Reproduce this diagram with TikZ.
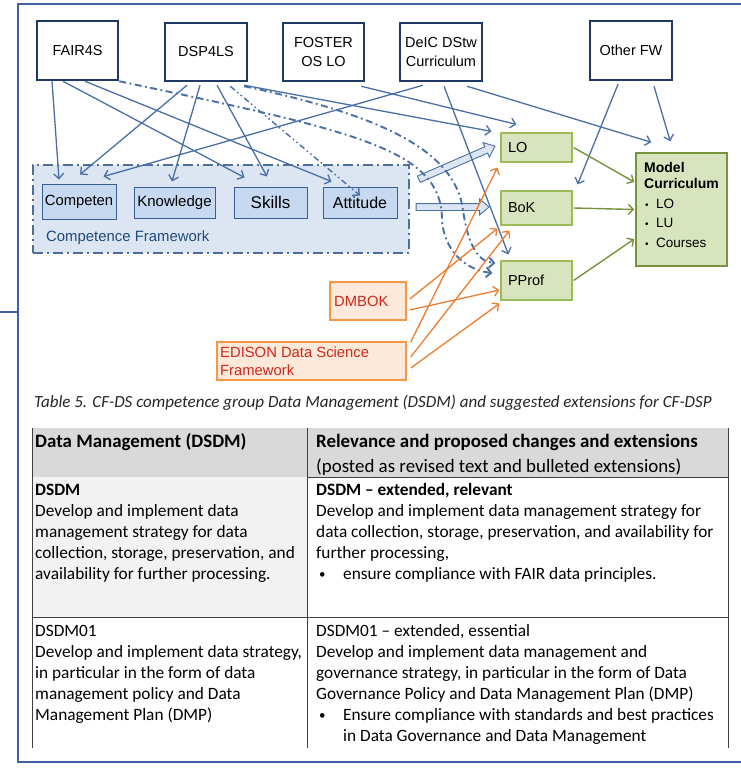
\documentclass[tikz,border=0pt]{standalone}
\usepackage{fontspec}
\setmainfont{Liberation Sans}
\newfontfamily\calibri{Carlito}
\usetikzlibrary{arrows.meta,shapes.arrows}
\definecolor{navy}{HTML}{1F3864}
\definecolor{lineblue}{HTML}{4A6FA5}
\definecolor{cffill}{HTML}{DCE6F2}
\definecolor{cfborder}{HTML}{4F6F9A}
\definecolor{cfin}{HTML}{3B5E91}
\definecolor{cfinfill}{HTML}{C6D9F1}
\definecolor{cflabel}{HTML}{1F497D}
\definecolor{gfill}{HTML}{D7E4BD}
\definecolor{gborder}{HTML}{9BBB59}
\definecolor{mcborder}{HTML}{77933C}
\definecolor{garr}{HTML}{77933C}
\definecolor{ofill}{HTML}{FDE9D9}
\definecolor{oborder}{HTML}{F79646}
\definecolor{ored}{HTML}{D0281C}
\definecolor{oarr}{HTML}{ED7D31}
\definecolor{frameblue}{HTML}{3F60A6}
\definecolor{tgray}{HTML}{D9D9D9}
\definecolor{tlight}{HTML}{F2F2F2}
\definecolor{tline}{HTML}{404040}
\definecolor{captxt}{HTML}{262626}
\begin{document}
\begin{tikzpicture}[x=1pt,y=-1pt,
  topbox/.style={draw=navy, line width=2.5pt, fill=white, align=center, font=\fontsize{14.5}{19}\selectfont, inner sep=0pt},
  cfbox/.style={draw=cfin, fill=cfinfill, line width=1pt, inner sep=0pt},
  gbox/.style={draw=gborder, fill=gfill, line width=1.2pt, inner xsep=7pt, inner ysep=0pt, font=\fontsize{14.5}{18}\selectfont, text width=57pt, align=left},
  obox/.style={draw=oborder, fill=ofill, line width=1.5pt, text=ored, font=\fontsize{14.8}{18}\selectfont, inner sep=0pt},
  otxt/.style={anchor=base west, inner sep=0pt, text=ored, font=\fontsize{14.8}{18}\selectfont},
  barrow/.style={draw=lineblue, line width=1.3pt, -{Straight Barb[length=5pt,width=10pt]}},
  oarrow/.style={draw=oarr, line width=1.3pt, -{Straight Barb[length=5pt,width=10pt]}},
  garrow/.style={draw=garr, line width=1.4pt, -{Straight Barb[length=5pt,width=10pt]}},
  ddash/.style={draw=lineblue, line width=1.9pt, dash pattern=on 7pt off 3.5pt on 1.8pt off 3.5pt, -{Straight Barb[length=5pt,width=10pt]}},
  dddash/.style={draw=lineblue, line width=1.4pt, dash pattern=on 6pt off 3pt on 1.6pt off 3pt on 1.6pt off 3pt, -{Straight Barb[length=5pt,width=10pt]}},
  blockarr/.style={single arrow, draw=lineblue, fill=cffill, line width=0.9pt, inner sep=3pt, minimum width=15pt, single arrow head extend=4.5pt, single arrow tip angle=80},
  tl/.style={anchor=base west, inner sep=0pt, text=black, font=\calibri\fontsize{17.3}{20}\selectfont},
  tlb/.style={tl, font=\calibri\bfseries\fontsize{17.3}{20}\selectfont},
  tbul/.style={tl, font=\calibri\fontsize{13}{20}\selectfont},
  th/.style={anchor=base west, inner sep=0pt, text=black, font=\calibri\fontsize{18.9}{22}\selectfont},
  thb/.style={th, font=\calibri\bfseries\fontsize{18.9}{22}\selectfont},
  mct/.style={anchor=base west, inner sep=0pt, font=\fontsize{13.5}{16}\selectfont},
]
\useasboundingbox (0,0) rectangle (741,768);
\clip (0,0) rectangle (741,768);
\fill[white] (0,0) rectangle (741,768);

% outer frame
\draw[frameblue, line width=2.5pt] (18,4) rectangle (770,762);
\coordinate (stubL) at (0,312);
\coordinate (stubR) at (18,312);
\draw[frameblue, line width=2.5pt] (stubL) -- (stubR);

% top boxes
\node[topbox, minimum width=81pt, minimum height=59pt] (FAIR) at (77.5,50.5) {FAIR4S};
\node[topbox, minimum width=82pt, minimum height=58pt] (DSP) at (206,52) {DSP4LS};
\node[topbox, minimum width=81pt, minimum height=58pt] (FOSTER) at (323.5,52) {FOSTER\\OS LO};
\node[topbox, minimum width=82pt, minimum height=58pt] (DEIC) at (441,52) {DeIC DStw\\Curriculum};
\node[topbox, minimum width=82pt, minimum height=59pt] (OTHER) at (631,50.5) {Other FW};

% competence framework
\node[draw=cfborder, fill=cffill, line width=2pt, dash pattern=on 10pt off 4pt on 2pt off 4pt, minimum width=376pt, minimum height=88pt, inner sep=0pt] (CF) at (221,209) {};
\node[cfbox, minimum width=74pt, minimum height=35pt, font=\fontsize{14.8}{18}\selectfont] (COMP) at (79,201.5) {Competen};
\node[cfbox, minimum width=81pt, minimum height=31pt, font=\fontsize{15}{18}\selectfont] (KNOW) at (174.5,202.5) {Knowledge};
\node[cfbox, minimum width=73pt, minimum height=31pt, font=\fontsize{17}{20}\selectfont] (SKILLS) at (270.5,202.5) {Skills};
\node[cfbox, minimum width=74pt, minimum height=31pt, font=\fontsize{16}{19}\selectfont] (ATT) at (360,202.5) {Attitude};
\node[anchor=base west, inner sep=0pt, text=cflabel, font=\fontsize{14.9}{17}\selectfont] (CFL) at (46,241) {Competence Framework};

% green boxes
\node[gbox, minimum height=29pt] (LO) at (536.5,147.5) {LO};
\node[gbox, minimum height=34pt] (BOK) at (536.5,208) {BoK};
\node[gbox, minimum height=39pt] (PPROF) at (536.5,280.5) {PProf};
\node[draw=mcborder, fill=gfill, line width=1.5pt, minimum width=91pt, minimum height=113pt, inner sep=0pt] (MC) at (681.5,209.5) {};
\node[mct, font=\bfseries\fontsize{14}{16}\selectfont] (MC1) at (644,172) {Model};
\node[mct, font=\bfseries\fontsize{14}{16}\selectfont] (MC2) at (644,188.5) {Curriculum};
\foreach \t/\yy [count=\i] in {LO/208, LU/227, Courses/247} {
  \node[mct, font=\fontsize{10}{12}\selectfont] (MCb\i) at (645,\yy) {•};
  \node[mct] (MCt\i) at (656,\yy) {\t};
}

% orange boxes
\node[obox, minimum width=76pt, minimum height=38pt] (DMBOK) at (368,301) {};
\node[otxt] (DMBOKt) at (334,306.5) {DMBOK};
\node[obox, minimum width=189pt, minimum height=38pt] (EDISON) at (311.5,361) {};
\node[otxt] (EDt1) at (220,357.5) {EDISON Data Science};
\node[otxt] (EDt2) at (220,375.5) {Framework};

% block arrows
\node[blockarr, minimum height=83pt, rotate=23.5] (BALO) at (455,163.5) {};
\node[blockarr, minimum height=73pt] (BABOK) at (450.5,207) {};

% blue solid arrows
\draw[barrow] ([xshift=-25.5pt]FAIR.south) -- ([shift={(-20,-4)}]COMP.north);
\draw[barrow] ([xshift=-14.5pt]FAIR.south) -- ([shift={(11,-9)}]SKILLS.north west);
\draw[barrow] ([xshift=7.5pt]FAIR.south) -- ([shift={(9,-5)}]ATT.north west);
\draw[barrow] ([shift={(-19,3)}]DSP.south) -- ([shift={(1,-9)}]COMP.north);
\draw[barrow] ([shift={(-6,3)}]DSP.south) -- ([shift={(-2.5,-5)}]KNOW.north);
\draw[barrow] ([shift={(11,3)}]DSP.south) -- ([shift={(-3.5,-10)}]SKILLS.north);
\draw[barrow] ([shift={(-4,3)}]DSP.south east) -- ([shift={(-9,-1)}]LO.north west);
\draw[barrow] ([shift={(-4,4)}]FOSTER.south east) -- ([shift={(16,-8)}]LO.north west);
\draw[barrow] ([shift={(-18,3)}]DEIC.south) -- ([shift={(-13,-7)}]COMP.north east);
\draw[barrow] ([shift={(3,4)}]DEIC.south) -- ([shift={(8,-6)}]PPROF.north west);
\draw[barrow] ([shift={(26,4)}]DEIC.south) -- ([shift={(16,-10)}]MC.north west);
\draw[barrow] ([shift={(-13,3)}]OTHER.south) -- ([shift={(5,-6)}]BOK.north east);
\draw[barrow] ([shift={(23,5)}]OTHER.south) -- ([shift={(35,-11)}]MC.north west);

% dash-dot connectors
\draw[dddash] ([shift={(-18,4)}]DSP.south east) -- ([yshift=-9pt]ATT.north);
\draw[ddash] (FAIR.south east) .. controls (360,132) and (442,150) .. (442,220)
   .. controls (444,250) and (465,270) .. ([shift={(-8,-7.5)}]PPROF.west);
\draw[ddash] ([shift={(-4,4)}]DSP.south east) .. controls (380,115) and (455,150) .. (463,210)
   .. controls (468,245) and (478,262) .. ([shift={(-5,-17.5)}]PPROF.west);

% orange arrows
\draw[oarrow] ([shift={(3,-2)}]DMBOK.east) -- ([shift={(-3,3)}]BOK.south west);
\draw[oarrow] ([shift={(3,9)}]DMBOK.east) -- ([shift={(-1,9.5)}]PPROF.west);
\draw[oarrow] ([shift={(4,-19)}]EDISON.east) -- ([shift={(-3,5)}]LO.south west);
\draw[oarrow] ([shift={(4,-4)}]EDISON.east) -- ([shift={(9,5)}]BOK.south west);
\draw[oarrow] ([shift={(4,7)}]EDISON.east) -- ([shift={(-1,3)}]PPROF.south west);

% green arrows
\draw[garrow] ([xshift=1pt]LO.east) -- ([shift={(-1,-27.5)}]MC.west);
\draw[garrow] ([xshift=1pt]BOK.east) -- ([shift={(-1,0)}]MC.west);
\draw[garrow] ([xshift=1pt]PPROF.east) -- ([shift={(-1,29.5)}]MC.west);

% caption
\node[anchor=base west, inner sep=0pt, text=captxt, font=\calibri\itshape\fontsize{17}{20}\selectfont] (CAP) at (34,407) {Table 5. CF-DS competence group Data Management (DSDM) and suggested extensions for CF-DSP};

% table
\fill[tgray] (32,428) rectangle (728,477);
\fill[tlight] (32,477) rectangle (307,617);
\draw[tline, line width=1pt] (32,428) -- (32,748);
\draw[tline, line width=1pt] (307,428) -- (307,748);
\draw[tline, line width=1pt] (728,428) -- (728,748);
\draw[tline, line width=1pt] (307,477) -- (728,477);
\draw[tline, line width=1pt] (32,617) -- (728,617);

\node[thb] (H1) at (35,447) {Data Management (DSDM)};
\node[thb] (H2) at (316,447) {Relevance and proposed changes and extensions};
\node[th] (H3) at (316,472) {(posted as revised text and bulleted extensions)};

\node[tlb] (R1L0) at (35,495) {DSDM};
\foreach \t [count=\i] in {{Develop and implement data},{management strategy for data},{collection, storage, preservation, and},{availability for further processing.}}
  \node[tl] (R1L\i) at (35,495+21*\i) {\t};
\node[tlb] (R1R0) at (316,495) {DSDM – extended, relevant};
\foreach \t [count=\i] in {{Develop and implement data management strategy for},{data collection, storage, preservation, and availability for},{further processing,}}
  \node[tl] (R1R\i) at (316,495+21*\i) {\t};
\node[tbul] (R1B) at (319,578) {•};
\node[tl] (R1R4) at (343,579) {ensure compliance with FAIR data principles.};

\foreach \t [count=\i from 0] in {{DSDM01},{Develop and implement data strategy,},{in particular in the form of data},{management policy and Data},{Management Plan (DMP)}}
  \node[tl] (R2L\i) at (35,636+21*\i) {\t};
\foreach \t [count=\i from 0] in {{DSDM01 – extended, essential},{Develop and implement data management and},{governance strategy, in particular in the form of Data},{Governance Policy and Data Management Plan (DMP)}}
  \node[tl] (R2R\i) at (316,636+21*\i) {\t};
\node[tbul] (R2B) at (319,719) {•};
\node[tl] (R2R4) at (343,720) {Ensure compliance with standards and best practices};
\node[tl] (R2R5) at (343,741) {in Data Governance and Data Management};
\end{tikzpicture}
\end{document}
